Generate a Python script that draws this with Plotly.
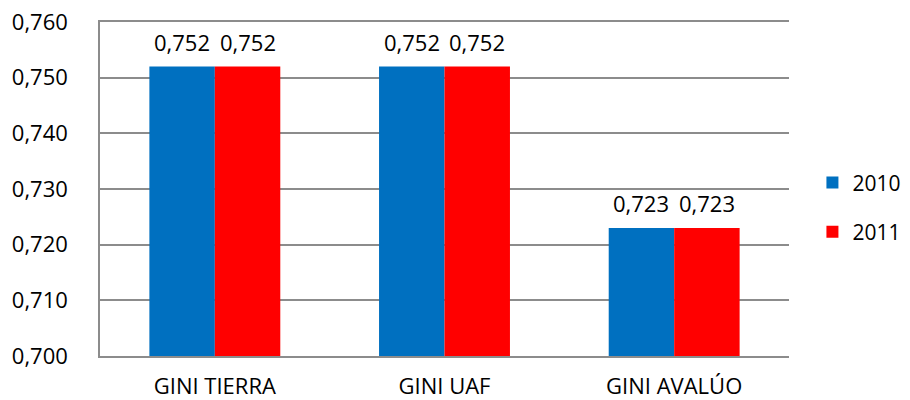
import plotly.graph_objects as go

categories = ["GINI TIERRA", "GINI UAF", "GINI AVALÚO"]
values_2010 = [0.752, 0.752, 0.723]
values_2011 = [0.752, 0.752, 0.723]
series_names = ["2010", "2011"]
colors = ["#0070C0", "#FF0000"]
y_ticks = [0.700, 0.710, 0.720, 0.730, 0.740, 0.750, 0.760]

FONT = "Open Sans, sans-serif"
# page body has an 8px default margin, so the figure is drawn 8px smaller
L, R, T, B = 92, 121, 14, 44
W, H = 902, 392
BARGAP = 0.43

fig = go.Figure()
for i, (name, vals) in enumerate(zip(series_names, [values_2010, values_2011])):
    fig.add_trace(go.Bar(
        x=categories, y=vals, name=name, legendgroup=name,
        marker=dict(color=colors[i], line=dict(width=0)),
    ))

# data labels as annotations, centered on each bar
plot_w = W - L - R
cat_w = plot_w / len(categories)
bar_w = cat_w * (1 - BARGAP) / len(series_names)
for i, vals in enumerate([values_2010, values_2011]):
    offset = (i - (len(series_names) - 1) / 2) * bar_w
    for c, v in zip(categories, vals):
        fig.add_annotation(
            x=c, y=v, xref="x", yref="y", text=f"{v:.3f}".replace(".", ","),
            showarrow=False, xshift=offset, yshift=25, yanchor="middle",
            font=dict(family=FONT, size=22, color="#000000"),
        )

fig.update_layout(
    width=W, height=H,
    margin=dict(l=L, r=R, t=T, b=B, autoexpand=False),
    plot_bgcolor="white", paper_bgcolor="white",
    separators=",.",
    barmode="group", bargap=BARGAP, bargroupgap=0,
    font=dict(family=FONT, size=22, color="#000000"),
    legend=dict(x=1.034, y=0.445, xanchor="left", yanchor="middle",
                font=dict(family=FONT, size=21, color="#000000"),
                traceorder="grouped", tracegroupgap=19, itemwidth=30,
                borderwidth=0),
    showlegend=True,
)
fig.update_yaxes(range=[y_ticks[0], y_ticks[-1]], tickvals=y_ticks,
                 ticktext=[f"{t:.3f}".replace(".", ",") for t in y_ticks],
                 showgrid=True, gridcolor="#8c8c8c", gridwidth=1.5,
                 showline=True, linecolor="#8c8c8c", linewidth=1.5,
                 ticks="", ticklabelstandoff=26, automargin=False,
                 ticklabeloverflow="allow",
                 tickfont=dict(family=FONT, size=22, color="#000000"),
                 zeroline=False)
fig.update_xaxes(showline=True, linecolor="#8c8c8c", linewidth=1.5,
                 mirror=True, ticks="", ticklabelstandoff=10, automargin=False,
                 tickfont=dict(family=FONT, size=22, color="#000000"))

fig.write_html("out.html")
